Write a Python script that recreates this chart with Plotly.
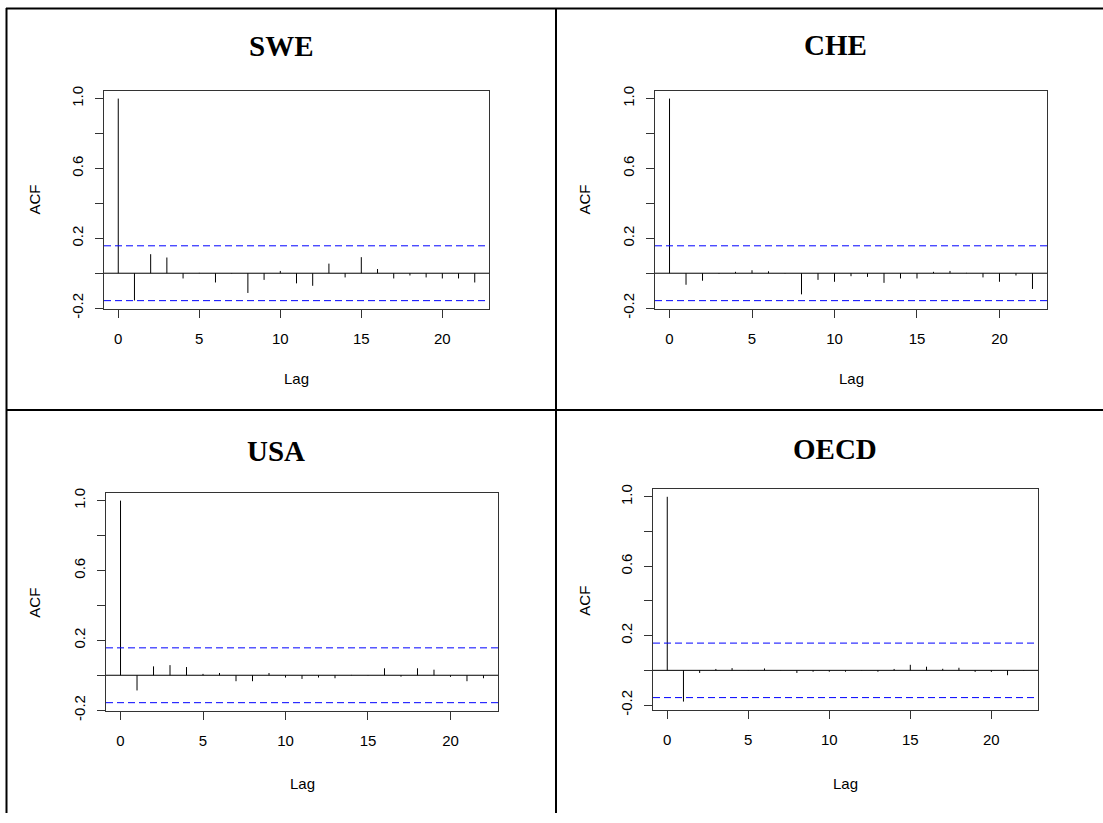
import plotly.graph_objects as go

W, H = 1103, 823

# ---------------- data ----------------
lags = list(range(23))
swe_acf = [1.0, -0.156, 0.109, 0.090, -0.030, 0.002, -0.053, -0.002, -0.113, -0.038,
           0.013, -0.058, -0.072, 0.055, -0.024, 0.092, 0.024, -0.030, -0.013, -0.024,
           -0.030, -0.030, -0.053]
che_acf = [1.0, -0.066, -0.043, -0.003, 0.008, 0.017, 0.011, -0.002, -0.121, -0.038,
           -0.049, -0.017, -0.021, -0.055, -0.030, -0.030, 0.008, 0.013, 0.002, -0.024,
           -0.049, -0.013, -0.090]
usa_acf = [1.0, -0.087, 0.051, 0.058, 0.047, 0.008, 0.013, -0.034, -0.034, 0.013,
           -0.013, -0.021, -0.013, -0.017, 0.002, -0.002, 0.040, -0.008, 0.040, 0.032,
           -0.009, -0.034, -0.017]
oecd_acf = [1.0, -0.180, -0.015, 0.008, 0.013, 0.002, 0.011, -0.002, -0.015, -0.008,
            -0.008, -0.008, 0.002, -0.008, 0.008, 0.032, 0.021, 0.009, 0.015, -0.009,
            -0.009, -0.028, -0.002]
panel_titles = ["SWE", "CHE", "USA", "OECD"]
conf_limits = [0.157, 0.157, 0.157, 0.157]
x_ticks = [0, 5, 10, 15, 20]
y_ticks = [-0.2, 0.0, 0.2, 0.4, 0.6, 0.8, 1.0]
y_tick_text = ["-0.2", "", "0.2", "", "0.6", "", "1.0"]
x_title = "Lag"
y_title = "ACF"

series = [swe_acf, che_acf, usa_acf, oecd_acf]

# ---------------- layout geometry (pixels) ----------------
boxes = [(104, 88, 489, 310), (655, 88, 1047, 310),
         (106, 497, 498, 719), (653, 493, 1038, 718)]
title_pos = [(281, 43), (835, 42), (276, 455), (835, 453)]
ylab_pos = [(35, 199), (585, 199), (35, 609), (585, 607)]
xlab_pos_y = [381, 381, 793, 793]


def fx(px):
    return px / W


def fy(py):
    return 1 - py / H


fig = go.Figure()
shapes = []
annotations = []
tick_font = dict(family="Liberation Sans, Arial, sans-serif", size=15, color="black")

for i, (vals, clim, box) in enumerate(zip(series, conf_limits, boxes)):
    n = "" if i == 0 else str(i + 1)
    xa, ya = "x" + n, "y" + n
    xs, ys = [], []
    for lag, v in zip(lags, vals):
        xs += [lag, lag, None]
        ys += [0, v, None]
    fig.add_trace(go.Scatter(x=xs, y=ys, mode="lines", xaxis=xa, yaxis=ya,
                             line=dict(color="black", width=1), showlegend=False,
                             hoverinfo="skip"))
    lo = min(min(vals), -clim)
    hi = max(max(vals), clim)
    pad = 0.04 * (hi - lo)
    xmax = max(lags)
    xpad = 0.04 * xmax
    l, t, r, b = box
    axis_common = dict(showline=True, mirror=True, linecolor="#333", linewidth=1,
                       ticks="outside", ticklen=8, tickcolor="#333", tickwidth=1,
                       showgrid=False, zeroline=False, tickfont=tick_font)
    fig.update_layout(**{
        ("xaxis" + n): dict(domain=[fx(l), fx(r)], anchor=ya,
                            range=[-xpad, xmax + xpad], tickmode="array",
                            tickvals=x_ticks, ticktext=[str(v) for v in x_ticks],
                            ticklabelstandoff=8, **axis_common),
        ("yaxis" + n): dict(domain=[fy(b), fy(t)], anchor=xa,
                            range=[lo - pad, hi + pad], tickmode="array",
                            tickvals=y_ticks, ticktext=y_tick_text, tickangle=-90,
                            ticklabelstandoff=6, **axis_common),
    })
    xd = xa + " domain"
    shapes.append(dict(type="line", xref=xd, yref=ya, x0=0, x1=1, y0=0, y1=0,
                       line=dict(color="black", width=1)))
    for c in (clim, -clim):
        shapes.append(dict(type="line", xref=xd, yref=ya, x0=0, x1=1, y0=c, y1=c,
                           line=dict(color="blue", width=1, dash="7px,4px")))
    tx, ty = title_pos[i]
    annotations.append(dict(text="<b>%s</b>" % panel_titles[i], x=fx(tx), y=fy(ty),
                            xref="paper", yref="paper", showarrow=False,
                            xanchor="center", yanchor="middle",
                            font=dict(family="Liberation Serif, Times New Roman, serif",
                                      size=29, color="black")))
    lx, ly = ylab_pos[i]
    annotations.append(dict(text=y_title, x=fx(lx), y=fy(ly), xref="paper", yref="paper",
                            showarrow=False, textangle=-90, xanchor="center",
                            yanchor="middle", font=tick_font))
    annotations.append(dict(text=x_title, x=fx((l + r) / 2), y=fy(xlab_pos_y[i]),
                            xref="paper", yref="paper", showarrow=False,
                            xanchor="center", yanchor="middle", font=tick_font))

# table-cell borders around the panels
border = dict(color="black", width=2)
for (x0, y0, x1, y1) in [(6, 4.5, 1103, 4.5), (6.5, 4, 6.5, 823), (556, 4, 556, 823),
                         (6, 413, 1103, 413)]:
    shapes.append(dict(type="line", xref="paper", yref="paper", x0=fx(x0), x1=fx(x1),
                       y0=fy(y0), y1=fy(y1), line=border))

fig.update_layout(width=W, height=H, margin=dict(l=0, r=0, t=0, b=0),
                  paper_bgcolor="white", plot_bgcolor="white",
                  shapes=shapes, annotations=annotations)

fig.write_html("out.html")
